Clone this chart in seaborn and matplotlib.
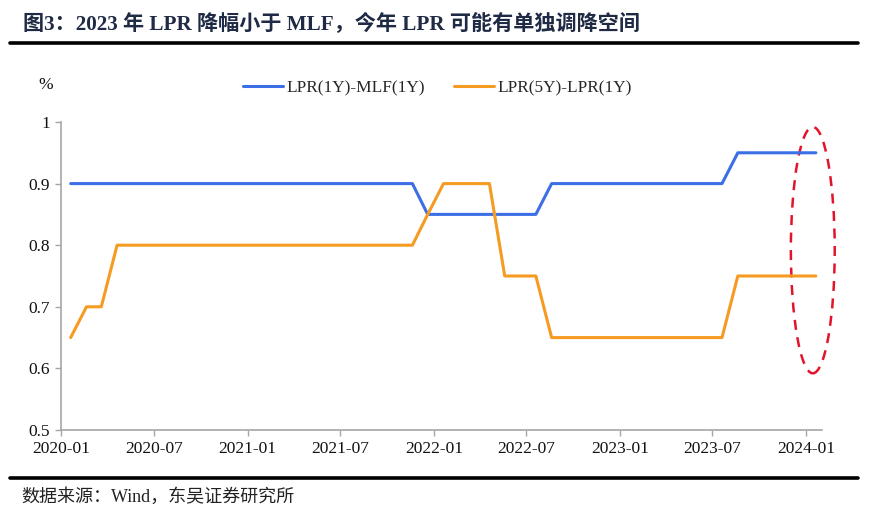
#!/usr/bin/env python3
"""
图3: LPR 与 MLF 利差走势
"""

import numpy as np
import pandas as pd
import matplotlib
matplotlib.use('Agg')
import matplotlib.pyplot as plt
import matplotlib.dates as mdates
from matplotlib.patches import Ellipse
import seaborn as sns

# 数据 (每月 20 日 LPR 报价日)
dates = pd.date_range('2020-01-01', periods=49, freq='MS') + pd.Timedelta(days=19)

lpr1y_mlf1y = [0.90] * 23 + [0.85] * 8 + [0.90] * 12 + [0.95] * 6
lpr5y_lpr1y = ([0.65, 0.70, 0.70] + [0.80] * 20 + [0.85] + [0.90] * 4
               + [0.75] * 3 + [0.65] * 12 + [0.75] * 6)

series_names = ['LPR(1Y)-MLF(1Y)', 'LPR(5Y)-LPR(1Y)']
series_colors = ['#3C6EE6', '#F59B22']

title_text = '图3：2023 年 LPR 降幅小于 MLF，今年 LPR 可能有单独调降空间'
source_text = '数据来源：Wind，东吴证券研究所'

sns.set_theme(style='white')
plt.rcParams['font.family'] = ['Liberation Serif', 'Noto Sans CJK SC']
plt.rcParams['axes.unicode_minus'] = False

df = pd.DataFrame({
    'date': list(dates) * 2,
    'value': lpr1y_mlf1y + lpr5y_lpr1y,
    'series': [series_names[0]] * len(dates) + [series_names[1]] * len(dates),
})

fig = plt.figure(figsize=(8.7, 5.13), dpi=100)
ax = fig.add_axes([0.0701, 0.1618, 0.8747, 0.6004])

sns.lineplot(data=df, x='date', y='value', hue='series',
             palette=dict(zip(series_names, series_colors)),
             linewidth=2.2, ax=ax, legend=True)

# 红色虚线椭圆标注
ell_center = (mdates.date2num(pd.Timestamp('2024-01-14')), 0.792)
ell = Ellipse(ell_center, width=86, height=0.40, fill=False,
              edgecolor='#E3132C', linestyle=(0, (4, 3)), linewidth=1.8,
              clip_on=False)
ax.add_patch(ell)

ax.set_xlim(pd.Timestamp('2020-01-01'), pd.Timestamp('2024-02-01'))
ax.set_ylim(0.5, 1.0)
ax.set_yticks([0.5, 0.6, 0.7, 0.8, 0.9, 1.0])
ax.set_yticklabels(['0.5', '0.6', '0.7', '0.8', '0.9', '1'])
ax.xaxis.set_major_locator(mdates.MonthLocator(bymonth=[1, 7]))
ax.xaxis.set_major_formatter(mdates.DateFormatter('%Y-%m'))

ax.set_xlabel('')
ax.set_ylabel('')
for side in ['top', 'right']:
    ax.spines[side].set_visible(False)
for side in ['left', 'bottom']:
    ax.spines[side].set_color('#A6A6A6')
    ax.spines[side].set_linewidth(1.2)
ax.tick_params(axis='both', which='major', direction='out', length=4,
               width=1.0, color='#A6A6A6', labelsize=12.5, labelcolor='#111111',
               left=True, bottom=True, pad=4)

ax.legend(loc='upper center', ncol=2, frameon=False, fontsize=12.4,
          handlelength=2.3, columnspacing=1.7, handletextpad=0.2)
leg = ax.get_legend()
leg.set_bbox_to_anchor((0.503, 0.874), transform=fig.transFigure)
for line in leg.get_lines():
    line.set_linewidth(2.2)

fig.text(0.052, 0.834, '%', fontsize=12.5, ha='center', va='center', color='#111111')

# 标题与分割线
fig.text(0.026, 0.953, title_text, fontsize=15.2, fontweight='bold', color='#1F2A44',
         ha='left', va='center')
fig.add_artist(plt.Line2D([0.012, 0.986], [0.916, 0.916], color='black', linewidth=2.6,
                          transform=fig.transFigure))
fig.add_artist(plt.Line2D([0.012, 0.986], [0.068, 0.068], color='black', linewidth=2.6,
                          transform=fig.transFigure))
fig.text(0.025, 0.032, source_text, fontsize=13, color='#222222', ha='left', va='center')

plt.savefig('out.png', dpi=100)
